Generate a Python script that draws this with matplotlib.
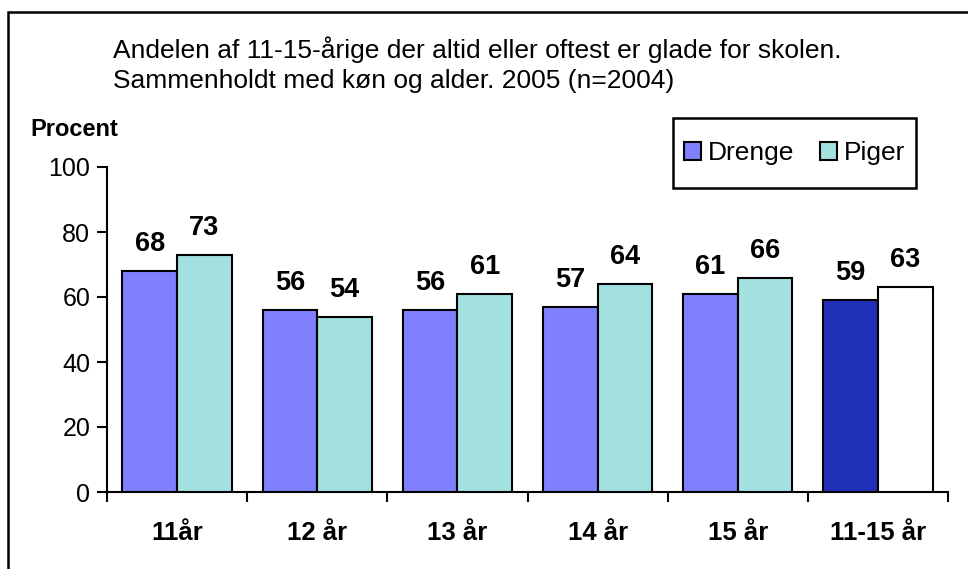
import matplotlib.pyplot as plt
import numpy as np
from matplotlib.patches import Rectangle, Patch

plt.rcParams['font.family'] = ['Liberation Sans', 'DejaVu Sans']

categories = ['11år', '12 år', '13 år', '14 år', '15 år', '11-15 år']
drenge = [68, 56, 56, 57, 61, 59]
piger = [73, 54, 61, 64, 66, 63]

c_drenge = '#8080FF'
c_piger = '#A3E0E0'
c_drenge_tot = '#2030B8'
c_piger_tot = '#FFFFFF'

fig = plt.figure(figsize=(9.68, 5.69), dpi=100)
W, H = 968, 569
ax = fig.add_axes([107 / W, 1 - 492 / H, (948 - 107) / W, (492 - 167) / H])

x = np.arange(len(categories)) + 0.5
bw = 0.39
dcols = [c_drenge] * (len(categories) - 1) + [c_drenge_tot]
pcols = [c_piger] * (len(categories) - 1) + [c_piger_tot]
ax.bar(x - bw / 2, drenge, bw, color=dcols, edgecolor='black', linewidth=1.5, zorder=3)
ax.bar(x + bw / 2, piger, bw, color=pcols, edgecolor='black', linewidth=1.5, zorder=3)

for xi, d, p in zip(x, drenge, piger):
    ax.annotate(str(d), (xi - bw / 2, d), xytext=(0, 10), textcoords='offset points',
                ha='center', va='bottom', fontsize=19.5, fontweight='bold')
    ax.annotate(str(p), (xi + bw / 2, p), xytext=(0, 10), textcoords='offset points',
                ha='center', va='bottom', fontsize=19.5, fontweight='bold')

ax.set_xlim(0, len(categories))
ax.set_ylim(0, 100)
ax.set_yticks(range(0, 101, 20))
ax.tick_params(axis='y', labelsize=18, length=7, width=1.5, direction='out', pad=5)
ax.set_xticks(np.arange(len(categories) + 1))
ax.set_xticklabels([])
ax.set_xticks(x, minor=True)
ax.set_xticklabels(categories, minor=True, fontsize=18.5, fontweight='bold')
ax.tick_params(axis='x', which='major', length=7, width=1.5, direction='out')
ax.tick_params(axis='x', which='minor', length=0, pad=21)
for s in ['top', 'right']:
    ax.spines[s].set_visible(False)
for s in ['left', 'bottom']:
    ax.spines[s].set_linewidth(1.5)

fig.text(30 / W, 1 - 130 / H, 'Procent', fontsize=17, fontweight='bold', ha='left', va='center')
fig.text(113 / W, 1 - 50 / H, 'Andelen af 11-15-årige der altid eller oftest er glade for skolen.',
         fontsize=19, ha='left', va='center')
fig.text(113 / W, 1 - 81 / H, 'Sammenholdt med køn og alder. 2005 (n=2004)',
         fontsize=19, ha='left', va='center')

# legend box drawn separately so its size matches the original
box = Rectangle((673 / W, 1 - 188 / H), (916 - 673) / W, (188 - 118) / H,
                transform=fig.transFigure, facecolor='white', edgecolor='black', linewidth=1.8)
fig.patches.append(box)
handles = [Patch(facecolor=c_drenge, edgecolor='black', linewidth=1.5, label='Drenge'),
           Patch(facecolor=c_piger, edgecolor='black', linewidth=1.5, label='Piger')]
leg = fig.legend(handles=handles, ncol=2, loc='center',
                 bbox_to_anchor=((673 + 916) / 2 / W, 1 - 153 / H),
                 fontsize=19, frameon=False,
                 handlelength=0.65, handleheight=0.65, handletextpad=0.25, columnspacing=1.0,
                 borderpad=0, borderaxespad=0)

frame = Rectangle((8 / W, -0.1), 1.2, 1.1 - 12 / H, transform=fig.transFigure,
                  fill=False, edgecolor='black', linewidth=1.8)
fig.patches.append(frame)

fig.savefig('out.png', dpi=100)
